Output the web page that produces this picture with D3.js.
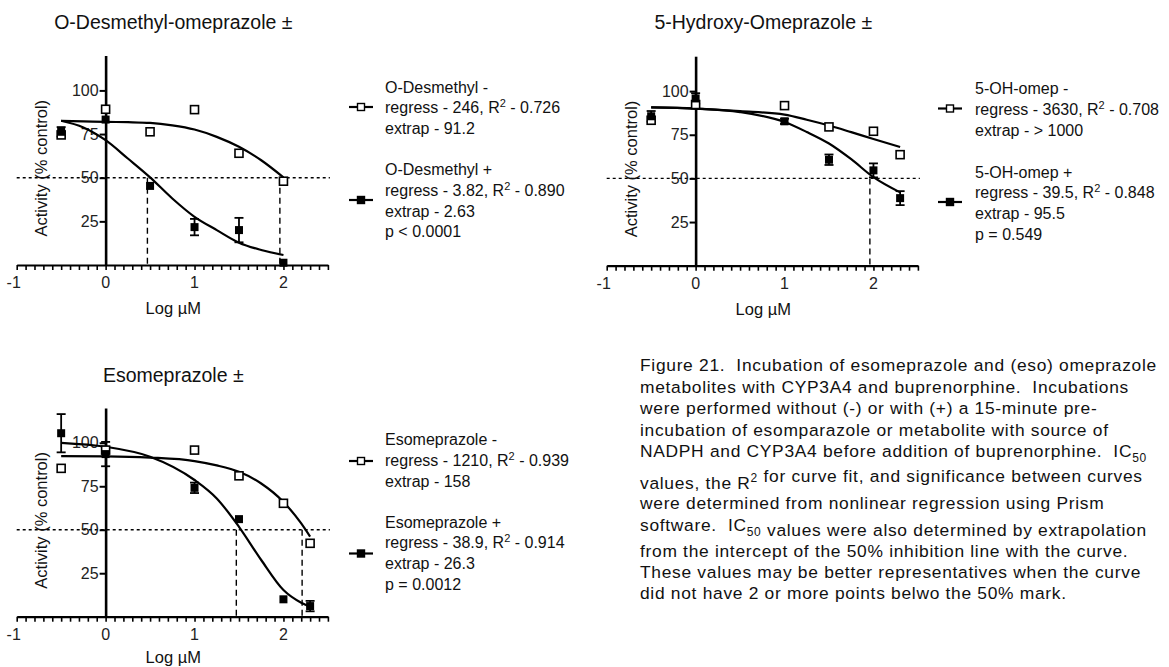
<!DOCTYPE html>
<html><head><meta charset="utf-8">
<script src="https://cdn.jsdelivr.net/npm/d3@7"></script>
<style>
html,body{margin:0;padding:0;background:#fff;}
svg{display:block;font-family:"Liberation Sans",Arial,sans-serif;}
.cap{white-space:pre;letter-spacing:0.7px;}
</style></head>
<body>
<svg id="c" width="1169" height="667"></svg>
<script>
// ---------- data ----------
const xMajorTicks = [-1, 0, 1, 2];
const yTicks = [25, 50, 75, 100];
const halfLine = 50;

// O-Desmethyl-omeprazole
const odmLogConc   = [-0.5, 0, 0.5, 1, 1.5, 2];
const odmMinus     = [74.5, 89.2, 76.3, 89.0, 64.0, 48.0];
const odmPlus      = [76.3, 83.3, 45.3, 21.7, 20.0, 1.3];
const odmPlusErr   = [2.7, 0, 0, 4.7, 7, 0];
const odmCurveX    = [-0.5, -0.25, 0, 0.25, 0.5, 0.75, 1, 1.25, 1.5, 1.75, 2];
const odmMinusFit  = [82.6, 82.3, 82.0, 81.8, 81.4, 80.0, 77.6, 73.4, 67.7, 60.0, 50.2];
const odmPlusFit   = [82.6, 78.8, 71.5, 61.0, 50.2, 38.1, 27.6, 20.0, 12.8, 8.6, 5.7];
const odmExtrap    = [0.47, 1.96];

// 5-Hydroxy-Omeprazole
const ohLogConc    = [-0.5, 0, 1, 1.5, 2, 2.3];
const ohMinus      = [83.3, 92.3, 91.7, 79.5, 77.0, 63.6];
const ohPlus       = [85.6, 95.8, 82.7, 60.7, 54.6, 38.7];
const ohPlusErr    = [3, 3, 1.5, 3, 4, 4];
const ohCurveX     = [-0.5, 0, 0.5, 1, 1.25, 1.5, 1.75, 2, 2.3];
const ohMinusFit   = [90.7, 90.0, 88.5, 86.5, 83.6, 80.3, 76.5, 72.6, 68.0];
const ohPlusFit    = [90.7, 90.0, 88.0, 82.3, 76.6, 70.0, 61.0, 50.7, 42.0];
const ohExtrap     = [1.96];

// Esomeprazole
const esoLogConc   = [-0.5, 0, 1, 1.5, 2, 2.3];
const esoMinus     = [85.3, 95.8, 95.8, 81.0, 65.2, 42.2];
const esoPlus      = [105.5, 93.5, 74.1, 56.1, 10.0, 6.1];
const esoPlusErr   = [11, 7, 3, 0, 0, 3];
const esoCurveX    = [-0.5, 0, 0.5, 1, 1.25, 1.5, 1.75, 2, 2.2, 2.3];
const esoMinusFit  = [92.3, 92.2, 91.5, 89.5, 87.0, 83.3, 76.6, 66.0, 53.6, 46.0];
const esoPlusFit   = [100.0, 97.7, 92.0, 78.6, 68.0, 51.7, 32.6, 15.3, 8.0, 5.7];
const esoExtrap    = [1.47, 2.21];

// legend texts
const odmLegendMinus = ["O-Desmethyl -", ["regress - 246, R", "2", " - 0.726"], "extrap - 91.2"];
const odmLegendPlus  = ["O-Desmethyl +", ["regress - 3.82, R", "2", " - 0.890"], "extrap - 2.63", "p < 0.0001"];
const ohLegendMinus  = ["5-OH-omep -", ["regress - 3630, R", "2", " - 0.708"], "extrap - > 1000"];
const ohLegendPlus   = ["5-OH-omep +", ["regress - 39.5, R", "2", " - 0.848"], "extrap - 95.5", "p = 0.549"];
const esoLegendMinus = ["Esomeprazole -", ["regress - 1210, R", "2", " - 0.939"], "extrap - 158"];
const esoLegendPlus  = ["Esomeprazole +", ["regress - 38.9, R", "2", " - 0.914"], "extrap - 26.3", "p = 0.0012"];

const captionLines = [
  ["Figure 21.  Incubation of esomeprazole and (eso) omeprazole"],
  ["metabolites with CYP3A4 and buprenorphine.  Incubations"],
  ["were performed without (-) or with (+) a 15-minute pre-"],
  ["incubation of esomparazole or metabolite with source of"],
  ["NADPH and CYP3A4 before addition of buprenorphine.  IC", {sub:"50"}],
  ["values, the R", {sup:"2"}, " for curve fit, and significance between curves"],
  ["were determined from nonlinear regression using Prism"],
  ["software.  IC", {sub:"50"}, " values were also determined by extrapolation"],
  ["from the intercept of the 50% inhibition line with the curve."],
  ["These values may be better representatives when the curve"],
  ["did not have 2 or more points belwo the 50% mark."]
];
const captionY = [371, 392.5, 414, 435.5, 457, 489, 509, 530.5, 556.5, 577.5, 599];

// ---------- drawing ----------
const svg = d3.select("#c");
const toPts = (xs, ys) => xs.map((x, i) => [x, ys[i]]);

function panel(cfg) {
  const g = svg.append("g");
  const x = d3.scaleLinear().domain([-1, 2.5]).range(cfg.xr);
  const y = d3.scaleLinear().domain([0, 120]).range(cfg.yr);

  // title
  g.append("text").attr("x", (cfg.xr[0] + cfg.xr[1]) / 2 + 1).attr("y", cfg.titleY)
    .attr("text-anchor", "middle").attr("font-size", 19.5).attr("fill", "#111").text(cfg.title);

  // 50% dotted line
  g.append("line").attr("x1", x(-1)).attr("x2", x(2.5) + 2).attr("y1", y(halfLine)).attr("y2", y(halfLine))
    .attr("stroke", "#000").attr("stroke-width", 1.4).attr("stroke-dasharray", "3,3");

  // x axis (minor ticks every 0.1)
  const minor = d3.range(-10, 26).map(d => d / 10);
  const xa = g.append("g").attr("transform", `translate(0,${y(0)})`)
    .call(d3.axisBottom(x).tickValues(minor).tickSize(5).tickSizeOuter(0).tickFormat(""));
  xa.select(".domain").attr("stroke-width", 2.2).attr("stroke", "#000");
  xa.selectAll(".tick line").attr("stroke-width", 1.6).attr("stroke", "#000");
  g.selectAll(".xl").data(xMajorTicks).enter().append("text")
    .attr("x", d => x(d) - (d < 0 ? 3 : 0)).attr("y", y(0) + 23).attr("text-anchor", "middle")
    .attr("font-size", 16).attr("fill", "#222").text(d => d);

  // dashed extrapolation lines
  cfg.extrap.forEach(v => {
    g.append("line").attr("x1", x(v)).attr("x2", x(v)).attr("y1", y(halfLine)).attr("y2", y(0))
      .attr("stroke", "#000").attr("stroke-width", 1.4).attr("stroke-dasharray", "6,4");
  });

  // y axis at x = 0
  const ya = g.append("g").attr("transform", `translate(${x(0)},0)`)
    .call(d3.axisLeft(y).tickValues(yTicks).tickSize(6).tickSizeOuter(0).tickPadding(1));
  ya.select(".domain").attr("stroke-width", 2.6).attr("stroke", "#000");
  ya.selectAll(".tick line").attr("stroke-width", 2).attr("stroke", "#000");
  ya.selectAll(".tick text").attr("font-size", 16).attr("fill", "#222")
    .attr("font-family", "Liberation Sans, Arial, sans-serif");

  // axis titles
  g.append("text").attr("transform", `translate(${cfg.ylabX},${(y(0) + y(120)) / 2 + 8}) rotate(-90)`)
    .attr("text-anchor", "middle").attr("font-size", 16.5).attr("fill", "#111").text("Activity (% control)");
  g.append("text").attr("x", (cfg.xr[0] + cfg.xr[1]) / 2 + 1).attr("y", y(0) + cfg.xlabDy)
    .attr("text-anchor", "middle").attr("font-size", 16.5).attr("fill", "#111").text("Log µM");

  // fitted curves
  const line = d3.line().x(d => x(d[0])).y(d => y(d[1])).curve(d3.curveMonotoneX);
  [cfg.minusFit, cfg.plusFit].forEach(f => {
    g.append("path").attr("d", line(toPts(cfg.curveX, f))).attr("fill", "none")
      .attr("stroke", "#000").attr("stroke-width", 2.2);
  });

  // error bars (plus series)
  cfg.plusErr.forEach((e, i) => {
    if (!e) return;
    const cx = x(cfg.logConc[i]);
    const top = y(cfg.plus[i] + e), bot = y(cfg.plus[i] - e);
    g.append("line").attr("x1", cx).attr("x2", cx).attr("y1", top).attr("y2", bot).attr("stroke", "#000").attr("stroke-width", 1.8);
    [top, bot].forEach(yy => g.append("line").attr("x1", cx - 4.5).attr("x2", cx + 4.5).attr("y1", yy).attr("y2", yy)
      .attr("stroke", "#000").attr("stroke-width", 1.8));
  });

  // open squares (minus)
  const s = 8;
  g.selectAll(null).data(toPts(cfg.logConc, cfg.minus)).enter().append("rect")
    .attr("x", d => x(d[0]) - s / 2).attr("y", d => y(d[1]) - s / 2).attr("width", s).attr("height", s)
    .attr("fill", "#fff").attr("stroke", "#000").attr("stroke-width", 1.6);
  // filled squares (plus)
  g.selectAll(null).data(toPts(cfg.logConc, cfg.plus)).enter().append("rect")
    .attr("x", d => x(d[0]) - s / 2).attr("y", d => y(d[1]) - s / 2).attr("width", s).attr("height", s)
    .attr("fill", "#000");

  // legend
  cfg.legends.forEach(L => {
    const lg = svg.append("g");
    lg.append("line").attr("x1", L.symX).attr("x2", L.symX + 24).attr("y1", L.symY).attr("y2", L.symY)
      .attr("stroke", "#000").attr("stroke-width", 2.2);
    lg.append("rect").attr("x", L.symX + 12 - 3.5).attr("y", L.symY - 3.5).attr("width", 7).attr("height", 7)
      .attr("fill", L.filled ? "#000" : "#fff").attr("stroke", "#000").attr("stroke-width", 1.4);
    L.lines.forEach((ln, i) => {
      const t = lg.append("text").attr("x", L.textX).attr("y", L.firstY + i * 20.8)
        .attr("font-size", 16).attr("fill", "#111");
      if (Array.isArray(ln)) {
        t.append("tspan").text(ln[0]);
        t.append("tspan").attr("font-size", 11).attr("dy", -6).text(ln[1]);
        t.append("tspan").attr("dy", 6).text(ln[2]);
      } else t.text(ln);
    });
  });
}

panel({
  title: "O-Desmethyl-omeprazole ±", titleY: 28.5,
  xr: [16.7, 327.9], yr: [265, 55.5], ylabX: 47, xlabDy: 49,
  logConc: odmLogConc, minus: odmMinus, plus: odmPlus, plusErr: odmPlusErr,
  curveX: odmCurveX, minusFit: odmMinusFit, plusFit: odmPlusFit, extrap: odmExtrap,
  legends: [
    {symX: 349, symY: 107, textX: 385, firstY: 92.5, lines: odmLegendMinus, filled: false},
    {symX: 349, symY: 200, textX: 385, firstY: 175, lines: odmLegendPlus, filled: true}
  ]
});
panel({
  title: "5-Hydroxy-Omeprazole ±", titleY: 28.5,
  xr: [606.7, 917.9], yr: [265.7, 56.2], ylabX: 637, xlabDy: 49,
  logConc: ohLogConc, minus: ohMinus, plus: ohPlus, plusErr: ohPlusErr,
  curveX: ohCurveX, minusFit: ohMinusFit, plusFit: ohPlusFit, extrap: ohExtrap,
  legends: [
    {symX: 938, symY: 108.5, textX: 975, firstY: 94, lines: ohLegendMinus, filled: false},
    {symX: 938, symY: 202, textX: 975, firstY: 177.5, lines: ohLegendPlus, filled: true}
  ]
});
panel({
  title: "Esomeprazole ±", titleY: 381.5,
  xr: [16.7, 327.9], yr: [616.7, 408], ylabX: 47, xlabDy: 46.5,
  logConc: esoLogConc, minus: esoMinus, plus: esoPlus, plusErr: esoPlusErr,
  curveX: esoCurveX, minusFit: esoMinusFit, plusFit: esoPlusFit, extrap: esoExtrap,
  legends: [
    {symX: 349, symY: 461, textX: 385, firstY: 445, lines: esoLegendMinus, filled: false},
    {symX: 349, symY: 553.5, textX: 385, firstY: 527.5, lines: esoLegendPlus, filled: true}
  ]
});

// caption
captionLines.forEach((parts, i) => {
  const t = svg.append("text").attr("class", "cap").attr("xml:space", "preserve")
    .attr("x", 640).attr("y", captionY[i]).attr("font-size", 17.4).attr("fill", "#111");
  parts.forEach(p => {
    if (typeof p === "string") t.append("tspan").text(p);
    else if (p.sub) { t.append("tspan").attr("font-size", 12).attr("dy", 5).text(p.sub); t.append("tspan").attr("dy", -5).text(""); }
    else if (p.sup) { t.append("tspan").attr("font-size", 12).attr("dy", -7).text(p.sup); t.append("tspan").attr("dy", 7).text(""); }
  });
});
</script>
</body></html>
